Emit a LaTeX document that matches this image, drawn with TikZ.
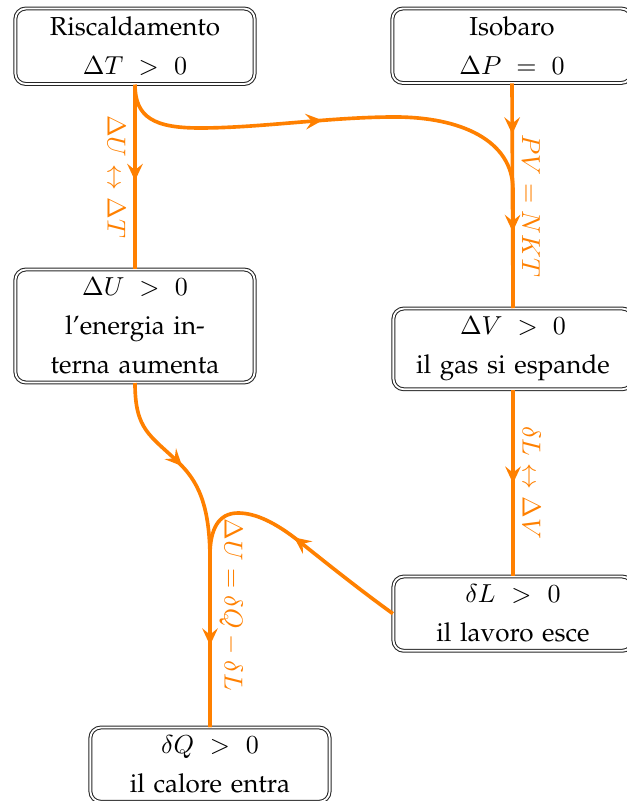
\documentclass[tikz,border=0pt]{standalone}
\usepackage[T1]{fontenc}
\usepackage{palatino}
\usetikzlibrary{arrows.meta,decorations.markings}
\definecolor{flow}{RGB}{255,128,0}
\begin{document}
\begin{tikzpicture}[x=0.3846pt,y=-0.3846pt,
  box/.style={draw=black!85, double, double distance=0.7pt, line width=0.4pt,
    rounded corners=4pt, text width=84pt, align=center, inner xsep=4pt,
    inner ysep=3.2pt, font=\fontsize{10}{15}\selectfont, anchor=north},
  flowline/.style={color=flow, line width=1.4pt},
  arrowat/.style={postaction={decorate,decoration={markings,
    mark=at position #1 with {\arrow{Stealth[length=6.5pt,width=6pt,inset=2.4pt]}}}}},
  lbl/.style={text=flow, rotate=-90, font=\fontsize{10}{12}\selectfont, inner sep=3pt}]
\useasboundingbox (0,0) rectangle (627,801);

\node[box] (b1) at (135,8) {Riscaldamento\\$\Delta T > 0$};
\node[box] (b2) at (512,8) {Isobaro\\$\Delta P = 0$};
\node[box] (b3) at (135,269) {$\Delta U > 0$\\l'energia in-\\terna aumenta};
\node[box] (b4) at (513,308) {$\Delta V > 0$\\il gas si espande};
\node[box] (b5) at (513,576) {$\delta L > 0$\\il lavoro esce};
\node[box] (b6) at (210,727) {$\delta Q > 0$\\il calore entra};

\draw[flowline, arrowat=37pt] (b1.south) -- node[lbl, below, pos=0.5] {$\Delta U \leftrightarrow \Delta T$} (b3.north);

\draw[flowline, arrowat=82pt] (b1.south) .. controls (135,118) and (155,128) .. (200,128)
  .. controls (260,128) and (330,117) .. (395,117)
  .. controls (460,117) and (513,140) .. (513,190) -- (b4.north);

\draw[flowline, arrowat=19.5pt, arrowat=57pt] (b2.south) -- node[lbl, above, pos=0.545] {$PV = NKT$} (b4.north);

\draw[flowline, arrowat=36pt] (b4.south) -- node[lbl, above, pos=0.5] {$\delta L \leftrightarrow \Delta V$} (b5.north);

\draw[flowline, arrowat=38.5pt, arrowat=110pt] (b3.south) .. controls (135,430) and (150,435) .. (178,462)
  .. controls (198,481) and (210,505) .. (210,560) -- (b6.north);

\draw[flowline, arrowat=48pt] (b5.west) .. controls (360,590) and (325,562) .. (300,542)
  .. controls (275,522) and (255,513) .. (238,513)
  .. controls (218,513) and (210,530) .. (210,555)
  -- node[lbl, above, pos=0.29] {$\Delta U = \delta Q - \delta L$} (b6.north);
\end{tikzpicture}
\end{document}
